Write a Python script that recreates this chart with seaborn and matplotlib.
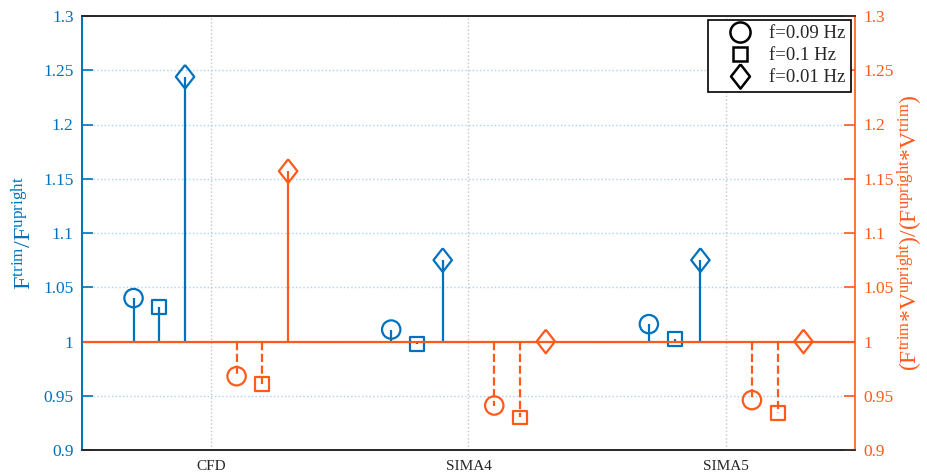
import matplotlib
matplotlib.use("Agg")
import numpy as np
import pandas as pd
import matplotlib.pyplot as plt
import seaborn as sns
from matplotlib.lines import Line2D

# ---- data -------------------------------------------------------------
cases = ["CFD", "SIMA4", "SIMA5"]
freq_labels = ["f=0.09 Hz", "f=0.1 Hz", "f=0.01 Hz"]

# F_trim / F_upright (left axis)
force_f009 = [1.040, 1.011, 1.016]
force_f01 = [1.032, 0.998, 1.002]
force_f001 = [1.244, 1.075, 1.075]

# (F_trim * V_upright) / (F_upright * V_trim) (right axis)
norm_f009 = [0.968, 0.941, 0.946]
norm_f01 = [0.961, 0.930, 0.934]
norm_f001 = [1.157, 1.000, 1.000]

baseline = 1.0

# ---- style --------------------------------------------------------------
sns.set_theme(style="white")
plt.rcParams["font.family"] = ["Liberation Serif", "DejaVu Serif"]
plt.rcParams["mathtext.fontset"] = "custom"
plt.rcParams["mathtext.rm"] = "Liberation Serif"
plt.rcParams["mathtext.it"] = "Liberation Serif:italic"

BLUE = "#0072BD"
ORANGE = "#FF5A1C"
DARK = "#262626"
LW = 1.6

diamond = [(0, 1), (0.78, 0), (0, -1), (-0.78, 0), (0, 1)]
markers = ["o", "s", diamond]
sizes = [175, 100, 290]

fig = plt.figure(figsize=(9.27, 4.76), dpi=100)
ax = fig.add_axes([82 / 927, 1 - 450 / 476, 773 / 927, 434 / 476])
ax2 = ax.twinx()

x = np.arange(1, len(cases) + 1)
blue_offsets = [-0.3, -0.2, -0.1]
orange_offsets = [0.1, 0.2, 0.3]

force_sets = [force_f009, force_f01, force_f001]
norm_sets = [norm_f009, norm_f01, norm_f001]

# left axis: blue stems
for vals, off, mk, sz in zip(force_sets, blue_offsets, markers, sizes):
    df = pd.DataFrame({"case": x + off, "ratio": vals})
    ax.vlines(df["case"], baseline, df["ratio"], color=BLUE, lw=LW, zorder=3)
    sns.scatterplot(data=df, x="case", y="ratio", ax=ax, marker=mk, s=sz,
                    color=BLUE, facecolor="none", edgecolor=BLUE,
                    linewidth=LW, zorder=4, legend=False)

# right axis: orange stems (dashed when below the baseline)
ax2.axhline(baseline, color=ORANGE, lw=LW, zorder=2)
for vals, off, mk, sz in zip(norm_sets, orange_offsets, markers, sizes):
    df = pd.DataFrame({"case": x + off, "ratio": vals})
    for xi, yi in zip(df["case"], df["ratio"]):
        if abs(yi - baseline) > 1e-9:
            ax2.vlines(xi, baseline, yi, color=ORANGE, lw=LW,
                       linestyles="--" if yi < baseline else "-", zorder=3)
    sns.scatterplot(data=df, x="case", y="ratio", ax=ax2, marker=mk, s=sz,
                    color=ORANGE, facecolor="none", edgecolor=ORANGE,
                    linewidth=LW, zorder=4, legend=False)

# ---- axes ---------------------------------------------------------------
yt = np.round(np.arange(0.9, 1.3001, 0.05), 2)
for a in (ax, ax2):
    a.set_xlim(0.5, 3.5)
    a.set_ylim(0.9, 1.3)
    a.set_yticks(yt)
    a.set_yticklabels([f"{v:g}" for v in yt])
    a.set_xlabel("")

ax.set_xticks(x)
ax.set_xticklabels(cases, fontsize=11, color=DARK)
ax.tick_params(axis="x", direction="in", length=5, color=DARK, pad=7)
ax.tick_params(axis="y", direction="in", length=8, width=1.2, colors=BLUE,
               labelsize=12.5, pad=6)
ax2.tick_params(axis="y", direction="in", length=8, width=1.2, colors=ORANGE,
                labelsize=12.5, pad=6)

ax.yaxis.grid(True, color="#A9D3F2", linestyle=":", lw=1.0)
ax.xaxis.grid(True, color="#C4C4C4", linestyle=":", lw=1.0)
ax.set_axisbelow(True)

for a in (ax, ax2):
    a.spines["top"].set_color(DARK)
    a.spines["bottom"].set_color(DARK)
    a.spines["top"].set_linewidth(1.2)
    a.spines["bottom"].set_linewidth(1.2)
ax.spines["left"].set_color(BLUE)
ax.spines["left"].set_linewidth(1.2)
ax2.spines["left"].set_color(BLUE)
ax2.spines["left"].set_linewidth(1.2)
ax2.spines["right"].set_color(ORANGE)
ax2.spines["right"].set_linewidth(1.2)
ax.spines["right"].set_visible(False)

ax.set_ylabel(r"$\mathrm{F^{trim}/F^{upright}}$", color=BLUE, fontsize=17.5, labelpad=5)
ax2.set_ylabel(r"$\mathrm{(F^{trim}{*}V^{upright})/(F^{upright}{*}V^{trim})}$",
               color=ORANGE, fontsize=17, labelpad=1)

# legend
leg_sizes = [14.5, 10.5, 17.5]
handles = [Line2D([], [], linestyle="none", marker=mk, markersize=ms,
                  markerfacecolor="none", markeredgecolor="black", markeredgewidth=1.8)
           for mk, ms in zip(markers, leg_sizes)]
leg = ax2.legend(handles, freq_labels, loc="upper right", fontsize=13.5,
                 frameon=True, fancybox=False, framealpha=1, edgecolor="black",
                 borderaxespad=0.2, handletextpad=0.2, labelspacing=0.25,
                 borderpad=0.3, handlelength=2.75)
leg.get_frame().set_linewidth(1.2)

fig.savefig("out.png", dpi=100)
